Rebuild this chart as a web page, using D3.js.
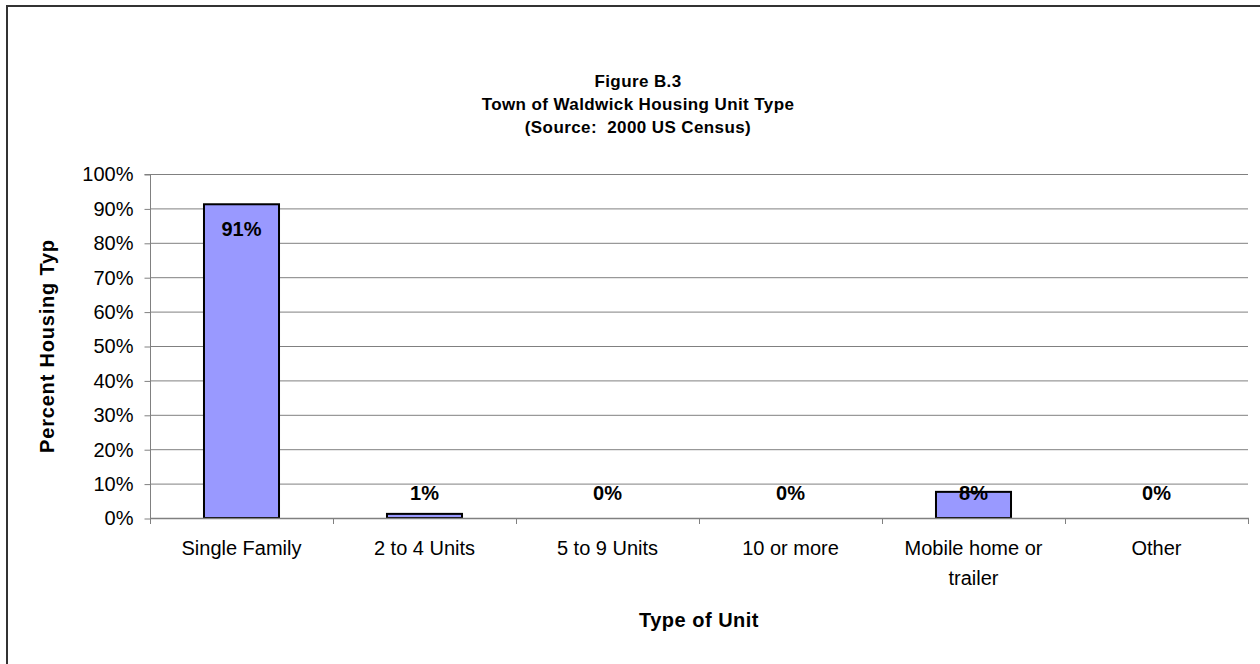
<!DOCTYPE html>
<html>
<head>
<meta charset="utf-8">
<script src="https://cdn.jsdelivr.net/npm/d3@7"></script>
<style>
  html, body { margin: 0; padding: 0; background: #fff; }
  svg { display: block; }
  text { font-family: "Liberation Sans", Arial, sans-serif; fill: #000; }
</style>
</head>
<body>
<svg id="chart" width="1260" height="664"></svg>
<script>
const categories = [["Single Family"], ["2 to 4 Units"], ["5 to 9 Units"], ["10 or more"], ["Mobile home or", "trailer"], ["Other"]];
const values = [91.2, 1.2, 0, 0, 7.6, 0];
const valueLabels = ["91%", "1%", "0%", "0%", "8%", "0%"];
const yTicks = [0, 10, 20, 30, 40, 50, 60, 70, 80, 90, 100];
const titleLines = ["Figure B.3", "Town of Waldwick Housing Unit Type", "(Source:  2000 US Census)"];
const xTitle = "Type of Unit";
const yTitle = "Percent Housing Typ";

const svg = d3.select("#chart");
const W = 1260, H = 664;
const plot = { left: 150, right: 1248, top: 174, bottom: 518 };

// outer frame (extends past right and bottom edges)
svg.append("rect")
  .attr("x", 7).attr("y", 6)
  .attr("width", W + 20).attr("height", H + 20)
  .attr("fill", "none").attr("stroke", "#333").attr("stroke-width", 2);

const x = d3.scaleBand().domain(d3.range(categories.length))
  .range([plot.left, plot.right]).paddingInner(0.59).paddingOuter(0.295);
const xEdge = d3.scaleLinear().domain([0, categories.length]).range([plot.left, plot.right]);
const y = d3.scaleLinear().domain([0, 100]).range([plot.bottom, plot.top]);

// gridlines
svg.append("g").selectAll("line").data(yTicks.filter(t => t > 0)).join("line")
  .attr("x1", plot.left).attr("x2", plot.right)
  .attr("y1", d => y(d) + 0.5).attr("y2", d => y(d) + 0.5)
  .attr("stroke", "#808080").attr("stroke-width", 1);

// y axis
const yAxis = d3.axisLeft(y).tickValues(yTicks).tickFormat(d => d + "%").tickSize(6).tickPadding(11);
const gy = svg.append("g").attr("transform", `translate(${plot.left + 0.5},0.5)`).call(yAxis);
gy.select(".domain").attr("stroke", "#808080").attr("d", `M-6,${plot.top}H0V${plot.bottom}`);
gy.selectAll(".tick line").attr("stroke", "#808080");
gy.selectAll(".tick text").style("font-size", "20px").attr("fill", "#000")
  .style("font-family", "'Liberation Sans', Arial, sans-serif");

// bars
svg.append("g").selectAll("rect").data(values).join("rect")
  .attr("x", (d, i) => x(i))
  .attr("y", d => y(d))
  .attr("width", x.bandwidth())
  .attr("height", d => y(0) - y(d))
  .attr("fill", "#9999FF")
  .attr("stroke", "#000").attr("stroke-width", 2);

// x axis line and ticks
svg.append("line").attr("x1", plot.left).attr("x2", plot.right + 1)
  .attr("y1", plot.bottom + 0.5).attr("y2", plot.bottom + 0.5)
  .attr("stroke", "#808080").attr("stroke-width", 1.5);
svg.append("g").selectAll("line").data(d3.range(categories.length + 1)).join("line")
  .attr("x1", d => xEdge(d) + 0.5).attr("x2", d => xEdge(d) + 0.5)
  .attr("y1", plot.bottom).attr("y2", plot.bottom + 6)
  .attr("stroke", "#808080").attr("stroke-width", 1);

// x labels
const xl = svg.append("g").selectAll("text").data(categories).join("text")
  .attr("text-anchor", "middle")
  .style("font-size", "20px");
xl.each(function(lines, i) {
  const t = d3.select(this);
  lines.forEach((ln, k) => {
    t.append("tspan").attr("x", x(i) + x.bandwidth() / 2)
      .attr("y", 555 + k * 30).text(ln);
  });
});

// value labels
svg.append("g").selectAll("text").data(values).join("text")
  .attr("x", (d, i) => x(i) + x.bandwidth() / 2)
  .attr("y", d => d > 50 ? y(d) + 32 : y(0) - 18)
  .attr("text-anchor", "middle")
  .style("font-size", "20px").style("font-weight", "bold")
  .text((d, i) => valueLabels[i]);

// titles
svg.append("g").selectAll("text").data(titleLines).join("text")
  .attr("x", 638).attr("y", (d, i) => 87 + i * 23)
  .attr("text-anchor", "middle")
  .style("font-size", "17px").style("font-weight", "bold").style("letter-spacing", "0.4px")
  .style("white-space", "pre")
  .text(d => d);

svg.append("text").attr("x", (plot.left + plot.right) / 2).attr("y", 627)
  .attr("text-anchor", "middle")
  .style("font-size", "20px").style("font-weight", "bold").style("letter-spacing", "0.5px")
  .text(xTitle);

svg.append("text")
  .attr("transform", `translate(54, ${(plot.top + plot.bottom) / 2}) rotate(-90)`)
  .attr("text-anchor", "middle")
  .style("font-size", "20px").style("font-weight", "bold").style("letter-spacing", "0.8px")
  .text(yTitle);
</script>
</body>
</html>
